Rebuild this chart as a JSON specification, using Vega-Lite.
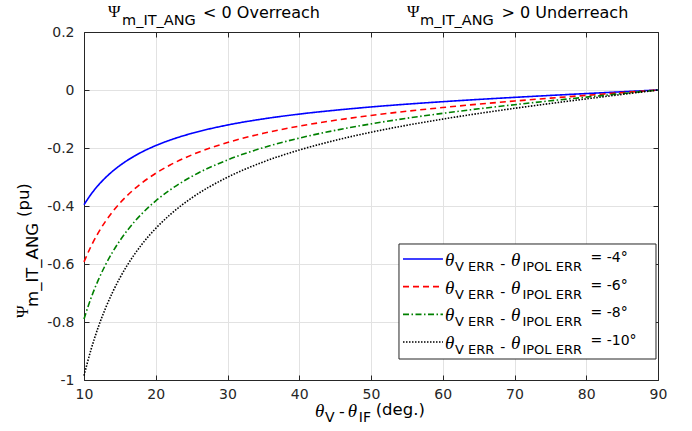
{
  "$schema": "https://vega.github.io/schema/vega-lite/v6.json",
  "width": 574,
  "height": 348,
  "autosize": "none",
  "padding": {"left": 84, "top": 32, "right": 34, "bottom": 51},
  "background": "white",
  "config": {"view": {"stroke": null}, "font": "DejaVu Sans"},
  "datasets": {
    "curves": [
      {"s":"-4","x":10,"y":-0.3956},{"s":"-4","x":11,"y":-0.3589},{"s":"-4","x":12,"y":-0.3282},{"s":"-4","x":13,"y":-0.3022},{"s":"-4","x":14,"y":-0.2798},{"s":"-4","x":15,"y":-0.2604},{"s":"-4","x":17,"y":-0.2282},{"s":"-4","x":18,"y":-0.2147},{"s":"-4","x":20,"y":-0.1917},{"s":"-4","x":22,"y":-0.1727},{"s":"-4","x":25,"y":-0.1496},{"s":"-4","x":30,"y":-0.1208},{"s":"-4","x":35,"y":-0.0996},{"s":"-4","x":40,"y":-0.0831},{"s":"-4","x":45,"y":-0.0698},{"s":"-4","x":50,"y":-0.0585},{"s":"-4","x":55,"y":-0.0488},{"s":"-4","x":60,"y":-0.0403},{"s":"-4","x":65,"y":-0.0325},{"s":"-4","x":70,"y":-0.0254},{"s":"-4","x":75,"y":-0.0187},{"s":"-4","x":80,"y":-0.0123},{"s":"-4","x":85,"y":-0.0061},{"s":"-4","x":90,"y":0},
      {"s":"-6","x":10,"y":-0.5928},{"s":"-6","x":11,"y":-0.5378},{"s":"-6","x":12,"y":-0.4918},{"s":"-6","x":13,"y":-0.4528},{"s":"-6","x":14,"y":-0.4192},{"s":"-6","x":15,"y":-0.3901},{"s":"-6","x":17,"y":-0.3419},{"s":"-6","x":18,"y":-0.3217},{"s":"-6","x":20,"y":-0.2872},{"s":"-6","x":22,"y":-0.2587},{"s":"-6","x":25,"y":-0.2242},{"s":"-6","x":30,"y":-0.1811},{"s":"-6","x":35,"y":-0.1493},{"s":"-6","x":40,"y":-0.1246},{"s":"-6","x":45,"y":-0.1045},{"s":"-6","x":50,"y":-0.0877},{"s":"-6","x":55,"y":-0.0732},{"s":"-6","x":60,"y":-0.0604},{"s":"-6","x":65,"y":-0.0487},{"s":"-6","x":70,"y":-0.0380},{"s":"-6","x":75,"y":-0.0280},{"s":"-6","x":80,"y":-0.0184},{"s":"-6","x":85,"y":-0.0091},{"s":"-6","x":90,"y":0},
      {"s":"-8","x":10,"y":-0.7893},{"s":"-8","x":11,"y":-0.7160},{"s":"-8","x":12,"y":-0.6547},{"s":"-8","x":13,"y":-0.6028},{"s":"-8","x":14,"y":-0.5582},{"s":"-8","x":15,"y":-0.5194},{"s":"-8","x":17,"y":-0.4552},{"s":"-8","x":18,"y":-0.4283},{"s":"-8","x":20,"y":-0.3824},{"s":"-8","x":22,"y":-0.3445},{"s":"-8","x":25,"y":-0.2985},{"s":"-8","x":30,"y":-0.2411},{"s":"-8","x":35,"y":-0.1987},{"s":"-8","x":40,"y":-0.1659},{"s":"-8","x":45,"y":-0.1392},{"s":"-8","x":50,"y":-0.1168},{"s":"-8","x":55,"y":-0.0974},{"s":"-8","x":60,"y":-0.0804},{"s":"-8","x":65,"y":-0.0649},{"s":"-8","x":70,"y":-0.0507},{"s":"-8","x":75,"y":-0.0373},{"s":"-8","x":80,"y":-0.0245},{"s":"-8","x":85,"y":-0.0122},{"s":"-8","x":90,"y":0},
      {"s":"-10","x":10,"y":-0.9848},{"s":"-10","x":11,"y":-0.8934},{"s":"-10","x":12,"y":-0.8170},{"s":"-10","x":13,"y":-0.7522},{"s":"-10","x":14,"y":-0.6965},{"s":"-10","x":15,"y":-0.6481},{"s":"-10","x":17,"y":-0.5680},{"s":"-10","x":18,"y":-0.5344},{"s":"-10","x":20,"y":-0.4771},{"s":"-10","x":22,"y":-0.4298},{"s":"-10","x":25,"y":-0.3724},{"s":"-10","x":30,"y":-0.3008},{"s":"-10","x":35,"y":-0.2480},{"s":"-10","x":40,"y":-0.2070},{"s":"-10","x":45,"y":-0.1737},{"s":"-10","x":50,"y":-0.1457},{"s":"-10","x":55,"y":-0.1216},{"s":"-10","x":60,"y":-0.1003},{"s":"-10","x":65,"y":-0.0810},{"s":"-10","x":70,"y":-0.0632},{"s":"-10","x":75,"y":-0.0465},{"s":"-10","x":80,"y":-0.0306},{"s":"-10","x":85,"y":-0.0152},{"s":"-10","x":90,"y":0}
    ],
    "leg": [
      {"s":"-4","lab":"= -4°"},
      {"s":"-6","lab":"= -6°"},
      {"s":"-8","lab":"= -8°"},
      {"s":"-10","lab":"= -10°"}
    ],
    "one": [{}]
  },
  "layer": [
    {
      "data": {"name": "curves"},
      "layer": [
        {
          "mark": {"type": "line", "interpolate": "monotone", "strokeWidth": 1.6, "strokeCap": "butt"},
          "encoding": {
            "x": {"field": "x", "type": "quantitative",
              "scale": {"domain": [10, 90], "nice": false, "zero": false},
              "axis": {"orient": "bottom", "values": [10,20,30,40,50,60,70,80,90], "title": null, "grid": true, "gridColor": "#e2e2e2", "gridWidth": 1,
                "domainColor": "#262626", "domainWidth": 1, "tickColor": "#262626", "tickSize": -5, "labelPadding": 12,
                "labelFont": "DejaVu Sans", "labelFontSize": 14, "labelColor": "#262626", "labelFlush": false, "labelExpr": "format(datum.value, 'd')"}},
            "y": {"field": "y", "type": "quantitative",
              "scale": {"domain": [-1, 0.2], "nice": false, "zero": false},
              "axis": {"orient": "left", "values": [-1,-0.8,-0.6,-0.4,-0.2,0,0.2], "title": null, "grid": true, "gridColor": "#e2e2e2", "gridWidth": 1,
                "domainColor": "#262626", "domainWidth": 1, "tickColor": "#262626", "tickSize": -5, "labelPadding": 15,
                "labelFont": "DejaVu Sans", "labelFontSize": 14, "labelColor": "#262626", "labelFlush": false,
                "labelExpr": "abs(datum.value) < 1e-9 ? '0' : (datum.value < 0 ? '-' + format(-datum.value, '.1~f') : format(datum.value, '.1~f'))"}},
            "color": {"field": "s", "type": "nominal", "legend": null,
              "scale": {"domain": ["-4","-6","-8","-10"], "range": ["#0000ff","#ff0000","#008000","#000000"]}},
            "strokeDash": {"field": "s", "type": "nominal", "legend": null,
              "scale": {"domain": ["-4","-6","-8","-10"], "range": [[1,0],[6,4],[6,2.5,1.5,2.5],[1.5,1.5]]}}
          }
        },
        {
          "data": {"name": "one"},
          "mark": {"type": "rect", "fill": "white", "stroke": "#262626", "strokeWidth": 1},
          "encoding": {
            "x": {"datum": 53.9, "type": "quantitative", "scale": {"domain": [10, 90], "nice": false, "zero": false},
              "axis": {"orient": "top", "values": [10,20,30,40,50,60,70,80,90], "title": null, "grid": false, "labels": false,
                "domainColor": "#262626", "domainWidth": 1, "tickColor": "#262626", "tickSize": -5}},
            "x2": {"datum": 89.72},
            "y": {"datum": -0.531, "type": "quantitative", "scale": {"domain": [-1, 0.2], "nice": false, "zero": false},
              "axis": {"orient": "right", "values": [-1,-0.8,-0.6,-0.4,-0.2,0,0.2], "title": null, "grid": false, "labels": false,
                "domainColor": "#262626", "domainWidth": 1, "tickColor": "#262626", "tickSize": -5}},
            "y2": {"datum": -0.9276}
          }
        },
        {"data": {"name": "one"}, "mark": {"type": "text", "text": "Ψ", "font": "Liberation Serif", "fontSize": 17, "align": "left", "baseline": "alphabetic", "color": "black"},
          "encoding": {"x": {"datum": 13.34, "type": "quantitative", "axis": null}, "y": {"datum": 0.2517, "type": "quantitative", "axis": null}}},
        {"data": {"name": "one"}, "mark": {"type": "text", "text": "m_IT_ANG", "font": "DejaVu Sans", "fontSize": 14.5, "align": "left", "baseline": "alphabetic", "color": "black"},
          "encoding": {"x": {"datum": 15.3, "type": "quantitative", "axis": null}, "y": {"datum": 0.2241, "type": "quantitative", "axis": null}}},
        {"data": {"name": "one"}, "mark": {"type": "text", "text": "< 0 Overreach", "font": "DejaVu Sans", "fontSize": 16, "align": "left", "baseline": "alphabetic", "color": "black"},
          "encoding": {"x": {"datum": 26.6, "type": "quantitative", "axis": null}, "y": {"datum": 0.2483, "type": "quantitative", "axis": null}}},
        {"data": {"name": "one"}, "mark": {"type": "text", "text": "Ψ", "font": "Liberation Serif", "fontSize": 17, "align": "left", "baseline": "alphabetic", "color": "black"},
          "encoding": {"x": {"datum": 55.02, "type": "quantitative", "axis": null}, "y": {"datum": 0.2517, "type": "quantitative", "axis": null}}},
        {"data": {"name": "one"}, "mark": {"type": "text", "text": "m_IT_ANG", "font": "DejaVu Sans", "fontSize": 14.5, "align": "left", "baseline": "alphabetic", "color": "black"},
          "encoding": {"x": {"datum": 56.83, "type": "quantitative", "axis": null}, "y": {"datum": 0.2241, "type": "quantitative", "axis": null}}},
        {"data": {"name": "one"}, "mark": {"type": "text", "text": "> 0 Underreach", "font": "DejaVu Sans", "fontSize": 16, "align": "left", "baseline": "alphabetic", "color": "black"},
          "encoding": {"x": {"datum": 68.2, "type": "quantitative", "axis": null}, "y": {"datum": 0.2483, "type": "quantitative", "axis": null}}},
        {"data": {"name": "one"}, "mark": {"type": "text", "text": "θ", "font": "Liberation Serif", "fontStyle": "italic", "fontSize": 19, "align": "left", "baseline": "alphabetic", "color": "black"},
          "encoding": {"x": {"datum": 42.19, "type": "quantitative", "axis": null}, "y": {"datum": -1.1276, "type": "quantitative", "axis": null}}},
        {"data": {"name": "one"}, "mark": {"type": "text", "text": "V", "font": "DejaVu Sans", "fontSize": 14, "align": "left", "baseline": "alphabetic", "color": "black"},
          "encoding": {"x": {"datum": 43.59, "type": "quantitative", "axis": null}, "y": {"datum": -1.1448, "type": "quantitative", "axis": null}}},
        {"data": {"name": "one"}, "mark": {"type": "text", "text": "-", "font": "DejaVu Sans", "fontSize": 16, "align": "left", "baseline": "alphabetic", "color": "black"},
          "encoding": {"x": {"datum": 45.55, "type": "quantitative", "axis": null}, "y": {"datum": -1.1276, "type": "quantitative", "axis": null}}},
        {"data": {"name": "one"}, "mark": {"type": "text", "text": "θ", "font": "Liberation Serif", "fontStyle": "italic", "fontSize": 19, "align": "left", "baseline": "alphabetic", "color": "black"},
          "encoding": {"x": {"datum": 46.75, "type": "quantitative", "axis": null}, "y": {"datum": -1.1276, "type": "quantitative", "axis": null}}},
        {"data": {"name": "one"}, "mark": {"type": "text", "text": "IF", "font": "DejaVu Sans", "fontSize": 14, "align": "left", "baseline": "alphabetic", "color": "black"},
          "encoding": {"x": {"datum": 48.3, "type": "quantitative", "axis": null}, "y": {"datum": -1.1448, "type": "quantitative", "axis": null}}},
        {"data": {"name": "one"}, "mark": {"type": "text", "text": "(deg.)", "font": "DejaVu Sans", "fontSize": 16.5, "align": "left", "baseline": "alphabetic", "color": "black"},
          "encoding": {"x": {"datum": 50.65, "type": "quantitative", "axis": null}, "y": {"datum": -1.1207, "type": "quantitative", "axis": null}}},
        {"data": {"name": "one"}, "mark": {"type": "text", "text": "Ψ", "font": "Liberation Serif", "fontSize": 17, "angle": 270, "align": "left", "baseline": "alphabetic", "color": "black"},
          "encoding": {"x": {"datum": 2.195, "type": "quantitative", "axis": null}, "y": {"datum": -0.786, "type": "quantitative", "axis": null}}},
        {"data": {"name": "one"}, "mark": {"type": "text", "text": "m_IT_ANG", "font": "DejaVu Sans", "fontSize": 16.5, "angle": 270, "align": "left", "baseline": "alphabetic", "color": "black"},
          "encoding": {"x": {"datum": 3.589, "type": "quantitative", "axis": null}, "y": {"datum": -0.748, "type": "quantitative", "axis": null}}},
        {"data": {"name": "one"}, "mark": {"type": "text", "text": "(pu)", "font": "DejaVu Sans", "fontSize": 16.5, "angle": 270, "align": "left", "baseline": "alphabetic", "color": "black"},
          "encoding": {"x": {"datum": 2.334, "type": "quantitative", "axis": null}, "y": {"datum": -0.438, "type": "quantitative", "axis": null}}}
      ],
      "resolve": {"axis": {"x": "independent", "y": "independent"}}
    },
    {
      "data": {"name": "leg"},
      "layer": [
        {
          "mark": {"type": "rule", "strokeWidth": 1.6, "strokeCap": "butt"},
          "encoding": {
            "x": {"datum": 54.46, "type": "quantitative", "axis": null},
            "x2": {"datum": 60.03},
            "y": {"field": "s", "type": "nominal", "axis": null, "scale": {"type": "point", "domain": ["-4","-6","-8","-10"], "range": [227, 310], "padding": 0}},
            "color": {"field": "s", "type": "nominal", "legend": null},
            "strokeDash": {"field": "s", "type": "nominal", "legend": null}
          }
        },
        {"mark": {"type": "text", "text": "θ", "font": "Liberation Serif", "fontStyle": "italic", "fontSize": 19, "align": "left", "baseline": "middle", "dy": 1, "color": "black"},
          "encoding": {"x": {"datum": 60.31, "type": "quantitative", "axis": null}, "y": {"field": "s", "type": "nominal", "axis": null}}},
        {"mark": {"type": "text", "text": "V ERR", "font": "DejaVu Sans", "fontSize": 13, "align": "left", "baseline": "middle", "dy": 8, "color": "black"},
          "encoding": {"x": {"datum": 61.71, "type": "quantitative", "axis": null}, "y": {"field": "s", "type": "nominal", "axis": null}}},
        {"mark": {"type": "text", "text": "-", "font": "DejaVu Sans", "fontSize": 14, "align": "left", "baseline": "middle", "dy": 6, "color": "black"},
          "encoding": {"x": {"datum": 68.0, "type": "quantitative", "axis": null}, "y": {"field": "s", "type": "nominal", "axis": null}}},
        {"mark": {"type": "text", "text": "θ", "font": "Liberation Serif", "fontStyle": "italic", "fontSize": 19, "align": "left", "baseline": "middle", "dy": 1, "color": "black"},
          "encoding": {"x": {"datum": 69.5, "type": "quantitative", "axis": null}, "y": {"field": "s", "type": "nominal", "axis": null}}},
        {"mark": {"type": "text", "text": "IPOL ERR", "font": "DejaVu Sans", "fontSize": 13, "align": "left", "baseline": "middle", "dy": 8, "color": "black"},
          "encoding": {"x": {"datum": 71.1, "type": "quantitative", "axis": null}, "y": {"field": "s", "type": "nominal", "axis": null}}},
        {"mark": {"type": "text", "font": "DejaVu Sans", "fontSize": 14, "align": "left", "baseline": "middle", "dy": -1, "color": "black"},
          "encoding": {"x": {"datum": 80.6, "type": "quantitative", "axis": null}, "y": {"field": "s", "type": "nominal", "axis": null}, "text": {"field": "lab"}}}
      ]
    }
  ],
  "resolve": {"scale": {"y": "independent"}, "axis": {"x": "independent", "y": "independent"}}
}
